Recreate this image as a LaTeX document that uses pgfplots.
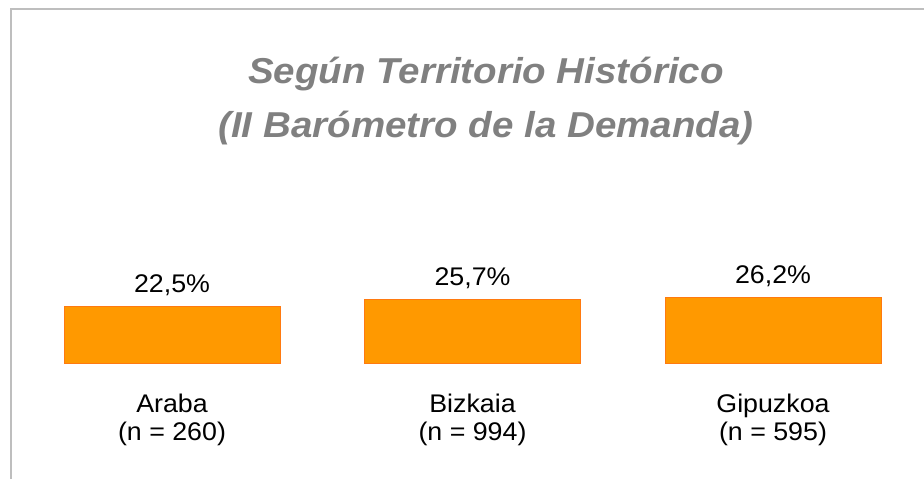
\documentclass[border=0pt]{standalone}
\usepackage{fontspec}
\setmainfont{Liberation Sans}[FakeStretch=1.05]
\newfontfamily\titlefont{Liberation Sans}[FakeStretch=1.07]
\usepackage{pgfplots}
\pgfplotsset{compat=1.18}
\definecolor{barfill}{HTML}{FF9900}
\definecolor{barline}{HTML}{FF7A10}
\definecolor{titlegray}{HTML}{808080}
\definecolor{framegray}{HTML}{BEBEBE}
\begin{document}
\begin{tikzpicture}
\path[use as bounding box] (0,0) rectangle (924bp,479bp);
\draw[framegray, line width=2bp] (11bp,0) -- (11bp,470bp) -- (924bp,470bp);
\node[anchor=base, titlegray, inner sep=0pt, font=\titlefont\fontsize{36bp}{40bp}\selectfont\bfseries\itshape] at (486bp,395bp) {Según Territorio Histórico};
\node[anchor=base, titlegray, inner sep=0pt, font=\titlefont\fontsize{36bp}{40bp}\selectfont\bfseries\itshape] at (486bp,341bp) {(II Barómetro de la Demanda)};
\begin{axis}[
  at={(172bp,116bp)}, anchor=origin,
  x=300.5bp, y=2.49bp,
  xmin=-0.5, xmax=2.5, ymin=0, ymax=30,
  clip=false,
  axis line style={draw=none},
  major tick length=0pt,
  ytick=\empty,
  xtick={0,1,2},
  xticklabels={{Araba\\(n = 260)},{Bizkaia\\(n = 994)},{Gipuzkoa\\(n = 595)}},
  xticklabel style={align=center, anchor=north, inner sep=0pt, yshift=-31bp,
    font=\fontsize{25.5bp}{27.5bp}\selectfont},
  ybar, bar width=216bp,
  /pgf/number format/assume math mode=true,
  nodes near coords={\pgfmathprintnumber[fixed,fixed zerofill,precision=1,use comma]{\pgfplotspointmeta}\%},
  nodes near coords style={anchor=base, inner sep=0pt, yshift=14bp, font=\fontsize{25.5bp}{27bp}\selectfont, black},
]
\addplot[fill=barfill, draw=barline, line width=1bp] coordinates {(0,22.5) (1,25.7) (2,26.2)};
\end{axis}
\end{tikzpicture}
\end{document}
